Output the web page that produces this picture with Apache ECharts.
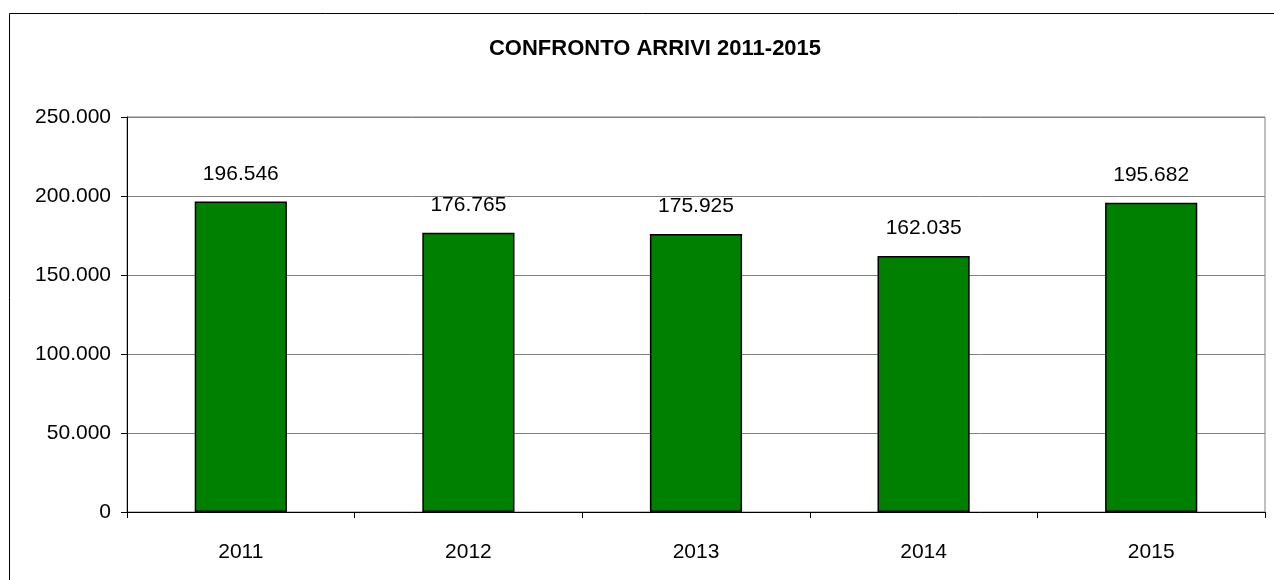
<!DOCTYPE html>
<html>
<head>
<meta charset="utf-8">
<script src="https://cdn.jsdelivr.net/npm/echarts@6/dist/echarts.min.js"></script>
<style>
  html, body { margin: 0; padding: 0; background: #fff; }
  #main { width: 1274px; height: 580px; }
</style>
</head>
<body>
<div id="main"></div>
<script>
var years = ['2011', '2012', '2013', '2014', '2015'];
var arrivi = [196546, 176765, 175925, 162035, 195682];

// 196546 -> "196.546"
function fmt(v) {
  return String(v).replace(/\B(?=(\d{3})+(?!\d))/g, '.');
}

var chart = echarts.init(document.getElementById('main'));
chart.setOption({
  backgroundColor: '#fff',
  animation: false,
  textStyle: { fontFamily: 'Liberation Sans, Arial, sans-serif' },
  graphic: [{
    type: 'rect',
    shape: { x: 9.5, y: 13.5, width: 1300, height: 600 },
    style: { fill: 'none', stroke: '#000', lineWidth: 1 },
    silent: true
  }],
  title: {
    text: 'CONFRONTO ARRIVI 2011-2015',
    left: 650,
    top: 33,
    textAlign: 'center',
    textStyle: { fontSize: 22, fontWeight: 'bold', color: '#000', fontFamily: 'Liberation Sans, Arial, sans-serif' }
  },
  grid: {
    left: 127, right: 9, top: 117, bottom: 68,
    show: true, borderColor: '#808080', borderWidth: 1
  },
  xAxis: {
    type: 'category',
    data: years,
    axisLine: { lineStyle: { color: '#000', width: 1 } },
    axisTick: { show: true, alignWithLabel: false, length: 6, lineStyle: { color: '#000' } },
    axisLabel: { color: '#000', fontSize: 21, margin: 30 }
  },
  yAxis: {
    type: 'value',
    min: 0, max: 250000, interval: 50000,
    axisLine: { show: true, lineStyle: { color: '#000', width: 1 } },
    axisTick: { show: true, length: 6, lineStyle: { color: '#000' } },
    axisLabel: { color: '#000', fontSize: 21, margin: 16, formatter: fmt },
    splitLine: { lineStyle: { color: '#808080', width: 1 } }
  },
  series: [{
    type: 'bar',
    data: arrivi,
    barWidth: '40.5%',
    itemStyle: { color: '#008000', borderColor: '#000', borderWidth: 1.5 },
    label: {
      show: true, position: 'top', distance: 17,
      color: '#000', fontSize: 21,
      formatter: function (p) { return fmt(p.value); }
    }
  }]
});
</script>
</body>
</html>
